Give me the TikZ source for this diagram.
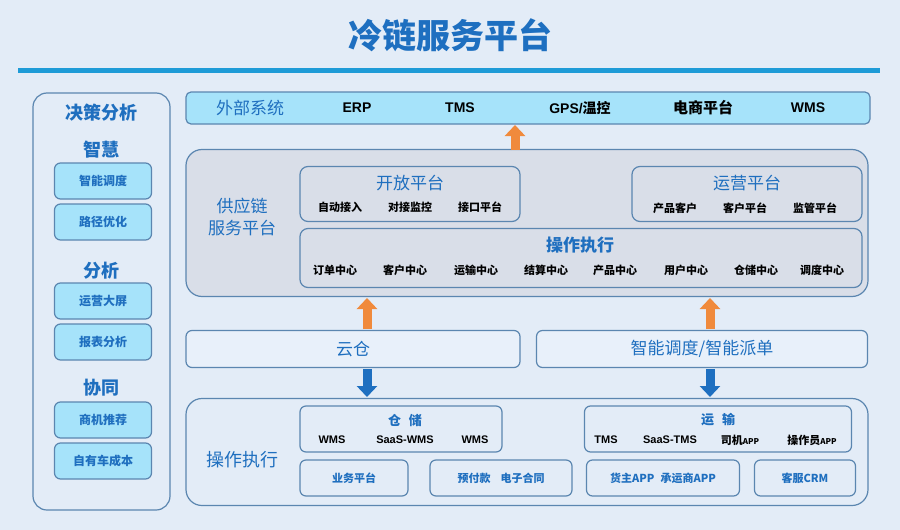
\documentclass[tikz,border=0pt]{standalone}
\usepackage{fontspec}
\setmainfont{Liberation Sans}
\newfontfamily\cjk{Noto Sans CJK SC}
\usetikzlibrary{arrows.meta}
\definecolor{bg}{HTML}{E3ECF7}
\definecolor{bd}{HTML}{5B86B0}
\definecolor{tb}{HTML}{1F6FBF}
\definecolor{lb}{HTML}{A6E3FA}
\definecolor{gp}{HTML}{D9DEE8}
\definecolor{org}{HTML}{F08A3C}
\definecolor{dbl}{HTML}{1E6FC0}
\tikzset{
 panel/.style={draw=bd,line width=1.2pt,rounded corners=14pt,fill=bg},
 subbox/.style={draw=bd,line width=1.2pt,rounded corners=8pt,fill=gp},
 sbox/.style={draw=bd,line width=1.2pt,rounded corners=6pt,fill=bg},
 lbox/.style={draw=bd,line width=1.2pt,rounded corners=6pt,fill=lb,minimum width=97pt,minimum height=36pt,font=\cjk\bfseries\fontsize{12}{14}\selectfont,text=tb},
 ttl/.style={font=\cjk\bfseries\fontsize{18}{20}\selectfont,text=tb},
 ttlm/.style={font=\cjk\fontsize{17}{20}\selectfont,text=tb},
 itm/.style={font=\cjk\bfseries\fontsize{11}{12}\selectfont,text=black},
 itmb/.style={font=\cjk\bfseries\fontsize{11}{12}\selectfont,text=tb},
 upar/.style={line width=9pt,org,-{Triangle[width=20pt,length=11pt]}},
 dnar/.style={line width=9pt,dbl,-{Triangle[width=20pt,length=11pt]}},
}
\begin{document}
\begin{tikzpicture}[x=1pt,y=-1pt]
\fill[bg] (0,0) rectangle (900,530);
\useasboundingbox (0,0) rectangle (900,530);
\node[font=\cjk\bfseries\fontsize{34}{38}\selectfont,text=dbl] (title) at (450,35) {冷链服务平台};
\draw[line width=5pt,color={rgb,255:red,30;green,155;blue,215}] (18,70) -- (880,70);
% left panel
\draw[panel] (33,93) rectangle (170,510);
\node[ttl] (jc) at (101,113) {决策分析};
\node[ttl] (zh) at (101,150) {智慧};
\node[lbox] (l1) at (103,181) {智能调度};
\node[lbox] (l2) at (103,222) {路径优化};
\node[ttl] (fx) at (101,271) {分析};
\node[lbox] (l3) at (103,301) {运营大屏};
\node[lbox] (l4) at (103,342) {报表分析};
\node[ttl] (xt) at (101,388) {协同};
\node[lbox] (l5) at (103,420) {商机推荐};
\node[lbox] (l6) at (103,461) {自有车成本};
% external
\node[draw=bd,line width=1.2pt,rounded corners=5pt,fill=lb,minimum width=684pt,minimum height=32pt] (ext) at (528,108) {};
\node[ttlm] at (250,108) {外部系统};
\node[font=\bfseries\fontsize{14}{16}\selectfont] at (357,108) {ERP};
\node[font=\bfseries\fontsize{14}{16}\selectfont] at (460,108) {TMS};
\node[font=\bfseries\fontsize{14}{16}\selectfont] at (580,108) {GPS/{\cjk 温控}};
\node[font=\cjk\bfseries\fontsize{15}{16}\selectfont] at (703,108) {电商平台};
\node[font=\bfseries\fontsize{14}{16}\selectfont] at (808,108) {WMS};
% supply chain
\node[draw=bd,line width=1.2pt,rounded corners=16pt,fill=gp,minimum width=682pt,minimum height=147pt] (scp) at (527,223) {};
\node[text=tb,font=\cjk\fontsize{17}{22}\selectfont,align=center] at (242,217) {供应链\\服务平台};
\node[subbox,minimum width=220pt,minimum height=55pt] (kf) at (410,194) {};
\node[ttlm] at (410,183) {开放平台};
\node[itm] at (340,207) {自动接入};
\node[itm] at (410,207) {对接监控};
\node[itm] at (480,207) {接口平台};
\node[subbox,minimum width=230pt,minimum height=55pt] (yy) at (747,194) {};
\node[ttlm] at (747,183) {运营平台};
\node[itm] at (675,208) {产品客户};
\node[itm] at (745,208) {客户平台};
\node[itm] at (815,208) {监管平台};
\node[subbox,minimum width=562pt,minimum height=59pt] (cz) at (581,258) {};
\node[ttlm,font=\cjk\bfseries\fontsize{17}{20}\selectfont] at (580,245) {操作执行};
\foreach \t/\x in {订单中心/335,客户中心/405,运输中心/476,结算中心/546,产品中心/615,用户中心/686,仓储中心/756,调度中心/822}
  \node[itm] at (\x,270) {\t};
% middle boxes
\node[sbox,fill={rgb,255:red,232;green,240;blue,250},minimum width=334pt,minimum height=37pt,ttlm] (yc) at (353,349) {云仓};
\node[sbox,fill={rgb,255:red,232;green,240;blue,250},minimum width=331pt,minimum height=37pt,ttlm] (zn) at (702,349) {智能调度/智能派单};
% bottom
\node[draw=bd,line width=1.2pt,rounded corners=16pt,fill=bg,minimum width=682pt,minimum height=107pt] (bot) at (527,452) {};
\node[ttl,font=\cjk\fontsize{18}{20}\selectfont] at (242,460) {操作执行};
\node[sbox,minimum width=202pt,minimum height=46pt] (cc) at (401,429) {};
\node[itmb,font=\cjk\bfseries\fontsize{13}{14}\selectfont] at (405,420) {仓\hspace{8pt}储};
\node[itm,font=\bfseries\fontsize{11}{12}\selectfont] at (332,440) {WMS};
\node[itm,font=\bfseries\fontsize{11}{12}\selectfont] at (405,440) {SaaS-WMS};
\node[itm,font=\bfseries\fontsize{11}{12}\selectfont] at (475,440) {WMS};
\node[sbox,minimum width=267pt,minimum height=46pt] (ys) at (718,429) {};
\node[itmb,font=\cjk\bfseries\fontsize{13}{14}\selectfont] at (718,420) {运\hspace{8pt}输};
\node[itm,font=\bfseries\fontsize{11}{12}\selectfont] at (606,440) {TMS};
\node[itm,font=\bfseries\fontsize{11}{12}\selectfont] at (670,440) {SaaS-TMS};
\node[itm] at (740,440) {司机\fontsize{8}{10}\selectfont APP};
\node[itm] at (812,440) {操作员\fontsize{8}{10}\selectfont APP};
\node[sbox,minimum width=108pt,minimum height=36pt,itmb] (yw) at (354,478) {业务平台};
\node[sbox,minimum width=142pt,minimum height=36pt,itmb] (yf) at (501,478) {预付款\hspace{10pt}电子合同};
\node[sbox,minimum width=153pt,minimum height=36pt,itmb] (hz) at (663,478) {货主APP\hspace{6pt}承运商APP};
\node[sbox,minimum width=101pt,minimum height=36pt,itmb] (kc) at (805,478) {客服CRM};
% arrows
\draw[upar] (515,150) -- (515,125);
\draw[upar] (367,329) -- (367,298);
\draw[upar] (710,329) -- (710,298);
\draw[dnar] (367,369) -- (367,397);
\draw[dnar] (710,369) -- (710,397);
\end{tikzpicture}
\end{document}
